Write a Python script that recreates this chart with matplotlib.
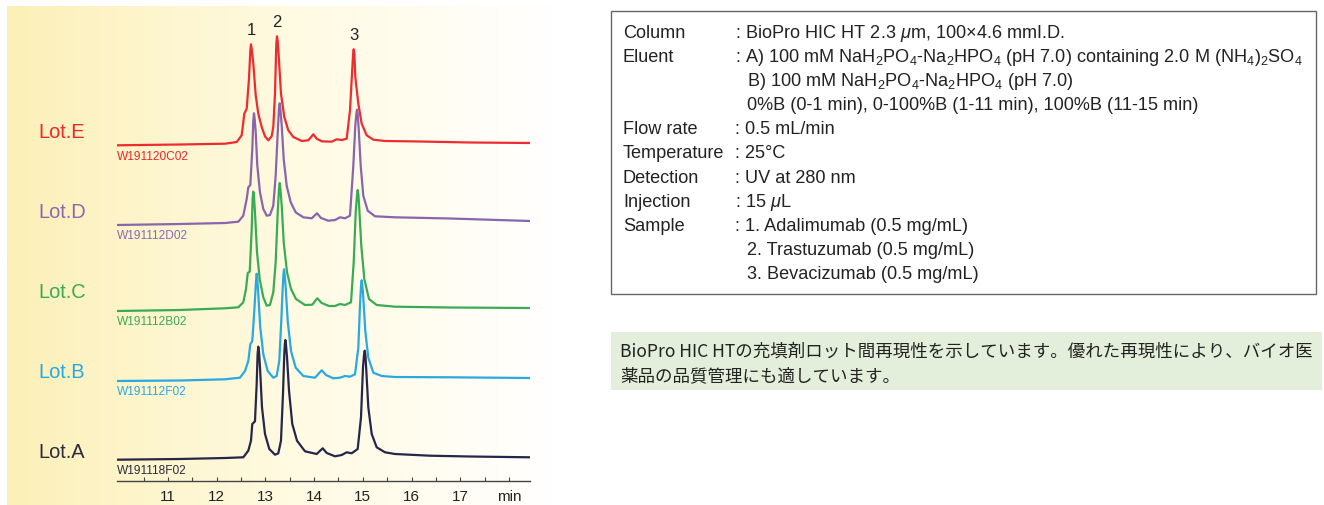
import numpy as np
import matplotlib
matplotlib.use("Agg")
import matplotlib.pyplot as plt
from matplotlib.colors import LinearSegmentedColormap
from matplotlib.patches import Rectangle

plt.rcParams['font.family'] = ['Liberation Sans', 'DejaVu Sans']
plt.rcParams['mathtext.fontset'] = 'custom'
plt.rcParams['mathtext.rm'] = 'Liberation Sans'
plt.rcParams['mathtext.it'] = 'Liberation Sans:italic'

W, H = 1324, 506

# ---------------- data (time in min, signal in arbitrary units) ----------------
lot_names = ["Lot.A", "Lot.B", "Lot.C", "Lot.D", "Lot.E"]
lot_ids = ["W191118F02", "W191112F02", "W191112B02", "W191112D02", "W191120C02"]

time_a = [9.953, 11.246, 12.170, 12.546, 12.649, 12.704, 12.731, 12.786, 12.821, 12.840,
          12.854, 12.869, 12.889, 12.930, 12.992, 13.080, 13.197, 13.265, 13.320, 13.361,
          13.388, 13.398, 13.409, 13.423, 13.444, 13.485, 13.552, 13.649, 13.813, 14.053,
          14.177, 14.259, 14.429, 14.567, 14.669, 14.772, 14.895, 14.963, 15.004, 15.025,
          15.039, 15.053, 15.072, 15.113, 15.183, 15.285, 15.456, 15.661, 16.380, 17.201, 18.433]
signal_a = [-1.7, -1, 0, 0.7, 7.3, 17.3, 34, 36.7, 74, 104,
            111.3, 106, 90.7, 50.7, 24, 9, 3.3, 4.7, 17.3, 64,
            104, 113, 118, 113, 100.7, 67.3, 34, 17.3, 6.7, 4,
            9.7, 5, 1.7, 3, 5.7, 4.7, 9, 40.7, 90.7, 103,
            107.3, 103, 87.3, 50.7, 24, 10.7, 5.7, 4, 2.3, 1.5, 0.7]

time_b = [9.953, 11.246, 12.170, 12.478, 12.581, 12.649, 12.690, 12.731, 12.772, 12.807,
          12.821, 12.836, 12.854, 12.895, 12.957, 13.047, 13.162, 13.232, 13.285, 13.326,
          13.355, 13.370, 13.382, 13.396, 13.417, 13.458, 13.526, 13.622, 13.778, 14.018,
          14.156, 14.244, 14.394, 14.532, 14.634, 14.737, 14.840, 14.908, 14.943, 14.963,
          14.977, 14.992, 15.010, 15.051, 15.113, 15.216, 15.388, 15.661, 16.791, 18.433]
signal_b = [-2, -1.5, -0.3, 1.3, 8, 18, 34.7, 38, 68, 98,
            105.3, 99, 84.7, 51.3, 24.7, 8, 1.3, 3, 18, 58,
            91.3, 104, 109.7, 104, 91.3, 58, 28, 11.3, 3, 1.3,
            8.7, 4, 0.7, 1.3, 3, 2.3, 4.7, 31.3, 74.7, 93,
            98.7, 93, 81.3, 48, 21.3, 6.3, 3, 2, 1.7, 1]

time_c = [9.953, 11.246, 12.170, 12.444, 12.546, 12.602, 12.637, 12.678, 12.719, 12.737,
          12.752, 12.766, 12.786, 12.828, 12.883, 12.957, 13.027, 13.094, 13.162, 13.211,
          13.253, 13.279, 13.294, 13.308, 13.335, 13.376, 13.444, 13.526, 13.628, 13.813,
          13.963, 14.066, 14.156, 14.306, 14.429, 14.532, 14.634, 14.758, 14.813, 14.854,
          14.881, 14.895, 14.910, 14.928, 14.969, 15.031, 15.127, 15.285, 15.661, 16.791, 18.433]
signal_c = [-2, -1, 0.7, 1.7, 6.7, 20, 36, 37.3, 80, 110,
            117.3, 112, 96.7, 56.7, 30, 11.7, 3.3, 4, 16.7, 46.7,
            96.7, 120, 126, 120, 103.3, 66.7, 36.7, 20, 10, 4,
            4.3, 10.7, 6, 3, 3, 5, 4, 6.7, 46.7, 96.7,
            114, 119, 114, 100, 63.3, 30, 10, 4, 2.3, 1.5, 1]

time_d = [9.953, 11.246, 12.170, 12.444, 12.546, 12.616, 12.649, 12.690, 12.731, 12.752,
          12.766, 12.780, 12.801, 12.834, 12.889, 12.957, 13.027, 13.094, 13.162, 13.211,
          13.253, 13.279, 13.294, 13.308, 13.335, 13.376, 13.437, 13.520, 13.622, 13.778,
          13.951, 14.060, 14.142, 14.292, 14.429, 14.532, 14.634, 14.737, 14.805, 14.846,
          14.867, 14.881, 14.895, 14.916, 14.957, 15.010, 15.101, 15.251, 15.661, 16.791, 18.433]
signal_d = [-2, -1, 0, 1.3, 7.3, 24, 35.7, 38, 74, 103,
            109.7, 104, 90.7, 57.3, 30.7, 14, 7.3, 8, 17.3, 47.3,
            90.7, 114, 119.7, 114, 97.3, 64, 37.3, 20.7, 10.7, 5.7,
            4.7, 9.7, 5, 2.3, 3, 5.7, 4.7, 7.3, 57.3, 97.3,
            109, 113.3, 109, 94, 57.3, 27.3, 12.3, 6.7, 5.7, 4.5, 2]

time_e = [9.953, 11.246, 12.170, 12.411, 12.513, 12.567, 12.616, 12.663, 12.690, 12.704,
          12.719, 12.752, 12.801, 12.854, 12.924, 12.992, 13.060, 13.129, 13.162, 13.197,
          13.224, 13.238, 13.253, 13.279, 13.320, 13.388, 13.470, 13.573, 13.745, 13.881,
          13.984, 14.053, 14.156, 14.361, 14.464, 14.567, 14.669, 14.737, 14.778, 14.799,
          14.813, 14.827, 14.846, 14.908, 14.977, 15.080, 15.216, 15.456, 16.175, 17.201, 18.433]
signal_e = [-1.3, -0.5, 0.3, 2, 8.7, 30.3, 35.3, 65.3, 93, 99.7,
            95, 80.3, 48.7, 30.3, 17, 7.7, 3.7, 7.7, 17, 50.3,
            100, 107.7, 103, 83.7, 50.3, 27, 13.7, 7, 3, 3.7,
            9.7, 5.3, 2.7, 2.3, 4.7, 4, 5.3, 33.7, 70, 89,
            94.7, 90, 67, 40.3, 20.3, 8.7, 4.3, 3, 2.5, 1.5, 1]

peak_names = ["1", "2", "3"]

conditions = [
    ("Column", ": BioPro HIC HT 2.3 $\\mu$m, 100×4.6 mmI.D."),
    ("Eluent", ": A) 100 mM NaH$_2$PO$_4$-Na$_2$HPO$_4$ (pH 7.0) containing 2.0 M (NH$_4$)$_2$SO$_4$"),
    ("", "B) 100 mM NaH$_2$PO$_4$-Na$_2$HPO$_4$ (pH 7.0)"),
    ("", "0%B (0-1 min), 0-100%B (1-11 min), 100%B (11-15 min)"),
    ("Flow rate", ": 0.5 mL/min"),
    ("Temperature", ": 25°C"),
    ("Detection", ": UV at 280 nm"),
    ("Injection", ": 15 $\\mu$L"),
    ("Sample", ": 1. Adalimumab (0.5 mg/mL)"),
    ("", "2. Trastuzumab (0.5 mg/mL)"),
    ("", "3. Bevacizumab (0.5 mg/mL)"),
]
note_text = ["BioPro HIC HTの充填剤ロット間再現性を示しています。優れた再現性により、バイオ医",
             "薬品の品質管理にも適しています。"]

# ---------------- styling ----------------
line_colors = ["#25264a", "#29a9e0", "#3aab55", "#8b64ae", "#ee2b2f"]
label_colors = ["#2a2b40", "#27a9e1", "#3aa957", "#8b68af", "#e8282d"]
stack_offsets = [23, 102, 172, 258, 337]   # vertical stacking of traces
lot_label_y = [453, 373, 293, 213, 133]    # pixel rows of Lot.* labels


def fx(x):
    return x / W


def fy(y):
    return 1 - y / H


fig = plt.figure(figsize=(W / 100, H / 100), dpi=100)

# yellow gradient panel behind the chromatograms
bg = fig.add_axes([fx(7), 0, (553 - 7) / W, (506 - 7) / H])
cmap = LinearSegmentedColormap.from_list("panel", ["#fcf0b8", "#fffae0", "#ffffff"])
bg.imshow(np.linspace(0, 1, 256)[None, :], aspect="auto", cmap=cmap,
          extent=[0, 1, 0, 1])
bg.set_axis_off()

ax = fig.add_axes([fx(117), fy(482), (530 - 117) / W, (482 - 7) / H])
ax.patch.set_alpha(0)

times = [time_a, time_b, time_c, time_d, time_e]
signals = [signal_a, signal_b, signal_c, signal_d, signal_e]
for t, s, off, c in zip(times, signals, stack_offsets, line_colors):
    ax.plot(t, np.array(s) + off, color=c, lw=1.6, solid_joinstyle="round")

for t, s, off, c, lid in zip(times, signals, stack_offsets, label_colors, lot_ids):
    ax.annotate(lid, xy=(t[0], off), xytext=(0, -8.5), textcoords="offset points",
                ha="left", va="center", fontsize=8.6, color=c)

# peak numbers above the top trace
peak_idx = [int(np.argmax(signal_e[:15])), 15 + int(np.argmax(signal_e[15:30])),
            30 + int(np.argmax(signal_e[30:]))]
for name, i in zip(peak_names, peak_idx):
    ax.annotate(name, xy=(time_e[i], signal_e[i] + stack_offsets[4]),
                xytext=(0, 5), textcoords="offset points",
                ha="center", va="bottom", fontsize=12, color="#222222")

ax.set_xlim(9.953, 18.433)
ax.set_ylim(0, 475)
for side in ["top", "left", "right"]:
    ax.spines[side].set_visible(False)
ax.spines["bottom"].set_color("#444444")
ax.spines["bottom"].set_linewidth(1.0)
ax.set_yticks([])
ticks = np.arange(10.5, 18.01, 0.5)
ax.set_xticks(ticks)
tick_labels = []
for v in ticks:
    if v == 18:
        tick_labels.append("min")
    elif v == int(v):
        tick_labels.append(str(int(v)))
    else:
        tick_labels.append("")
ax.set_xticklabels(tick_labels)
ax.tick_params(axis="x", direction="in", length=3, width=0.8, color="#444444",
               pad=6, labelsize=11, labelcolor="#222222")

for name, y, c in zip(lot_names, lot_label_y, label_colors):
    fig.text(fx(38), fy(y), name, fontsize=14.4, color=c, ha="left", va="center")

# conditions box
fig.patches.append(Rectangle((fx(611), fy(295)), (1316 - 611) / W, (295 - 12) / H,
                             transform=fig.transFigure, fill=False,
                             edgecolor="#666666", lw=1.0))
row_y = 33
for label, value in conditions:
    if label:
        fig.text(fx(623), fy(row_y), label, fontsize=13.1, color="#222222",
                 ha="left", va="center")
    x_val = 735 if value.startswith(":") else 747
    fig.text(fx(x_val), fy(row_y), value, fontsize=13.1, color="#222222",
             ha="left", va="center")
    row_y += 24.2

# green note box
fig.patches.append(Rectangle((fx(611), fy(391)), (1322 - 611) / W, (391 - 333) / H,
                             transform=fig.transFigure, facecolor="#e3efda",
                             edgecolor="none"))
for i, line in enumerate(note_text):
    fig.text(fx(620), fy(352 + 24.5 * i), line, fontsize=12.6, color="#222222",
             ha="left", va="center",
             family=["Noto Sans CJK JP", "DejaVu Sans"])

fig.savefig("out.png", dpi=100)
